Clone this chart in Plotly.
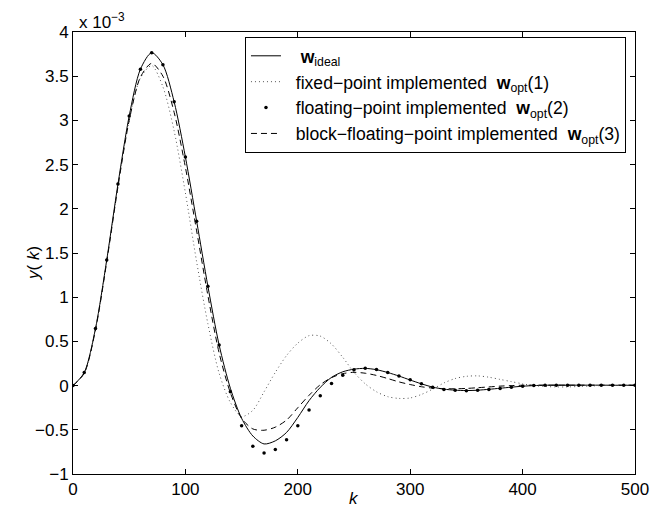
import plotly.graph_objects as go

k = list(range(0, 501, 10))

w_ideal = [0, 0.148, 0.645, 1.42, 2.28, 3.05, 3.58, 3.766, 3.63, 3.21,
           2.586, 1.86, 1.125, 0.46, -0.03, -0.37, -0.57, -0.66, -0.625, -0.53,
           -0.36, -0.17, -0.02, 0.093, 0.156, 0.186, 0.195, 0.18, 0.148, 0.108,
           0.063, 0.02, -0.017, -0.04, -0.052, -0.056, -0.052, -0.042, -0.03, -0.018,
           -0.007, 0.0, 0.004, 0.005, 0.005, 0.005, 0.005, 0.005, 0.004, 0.004, 0.004]

w_fixed = [0, 0.14, 0.64, 1.41, 2.26, 3.0, 3.48, 3.62, 3.38, 2.88,
           2.18, 1.4, 0.7, 0.14, -0.19, -0.35, -0.28, -0.07, 0.15, 0.34,
           0.48, 0.565, 0.56, 0.47, 0.32, 0.15, 0.02, -0.07, -0.125, -0.145,
           -0.14, -0.1, -0.04, 0.03, 0.08, 0.105, 0.11, 0.095, 0.07, 0.045,
           0.02, 0.0, -0.01, -0.015, -0.015, -0.01, -0.005, 0.0, 0.003, 0.004, 0.004]

w_float = [0, 0.148, 0.645, 1.42, 2.28, 3.05, 3.58, 3.766, 3.63, 3.21,
           2.586, 1.86, 1.125, 0.46, -0.07, -0.454, -0.686, -0.762, -0.724, -0.612,
           -0.454, -0.277, -0.115, 0.025, 0.118, 0.178, 0.197, 0.183, 0.149, 0.11,
           0.065, 0.02, -0.018, -0.043, -0.054, -0.058, -0.054, -0.043, -0.032, -0.018,
           -0.007, 0.001, 0.004, 0.005, 0.005, 0.005, 0.005, 0.005, 0.005, 0.005, 0.005]

w_block = [0, 0.14, 0.63, 1.40, 2.25, 3.0, 3.49, 3.645, 3.5, 3.09,
           2.47, 1.75, 1.02, 0.37, -0.08, -0.37, -0.49, -0.505, -0.47, -0.39,
           -0.25, -0.11, 0.01, 0.09, 0.135, 0.15, 0.14, 0.115, 0.08, 0.042,
           0.012, -0.013, -0.028, -0.035, -0.036, -0.032, -0.024, -0.015, -0.006, 0.0,
           0.004, 0.005, 0.005, 0.005, 0.005, 0.005, 0.005, 0.005, 0.005, 0.005, 0.005]

NB = "\u00a0"
names = [NB * 3 + "<b>w</b><sub>ideal</sub>",
         NB * 2 + "fixed\u2212point implemented  <b>w</b><sub>opt</sub>(1)",
         NB * 2 + "floating\u2212point implemented  <b>w</b><sub>opt</sub>(2)",
         NB * 2 + "block\u2212floating\u2212point implemented  <b>w</b><sub>opt</sub>(3)"]

xticks = [0, 100, 200, 300, 400, 500]
yticks = [-1, -0.5, 0, 0.5, 1, 1.5, 2, 2.5, 3, 3.5, 4]
yticktext = ["\u22121", "\u22120.5", "0", "0.5", "1", "1.5", "2", "2.5", "3", "3.5", "4"]

FONT = "Liberation Sans, Arial, Helvetica, sans-serif"

fig = go.Figure()
fig.add_trace(go.Scatter(x=k, y=w_ideal, mode="lines", name=names[0],
                         line=dict(color="black", width=1, shape="spline", smoothing=0.8)))
fig.add_trace(go.Scatter(x=k, y=w_fixed, mode="lines", name=names[1],
                         line=dict(color="#555555", width=1, dash="1px,3px", shape="spline", smoothing=0.8)))
fig.add_trace(go.Scatter(x=k, y=w_float, mode="markers", name=names[2],
                         marker=dict(color="black", size=3.5)))
fig.add_trace(go.Scatter(x=k, y=w_block, mode="lines", name=names[3],
                         line=dict(color="black", width=1, dash="6px,4px", shape="spline", smoothing=0.8)))

fig.update_layout(
    width=653, height=518,
    margin=dict(l=73, r=18, t=32, b=44),
    paper_bgcolor="white", plot_bgcolor="white",
    font=dict(family=FONT, size=17, color="black"),
    showlegend=True,
    legend=dict(x=0.306, y=0.989, xanchor="left", yanchor="top",
                bordercolor="black", borderwidth=1, bgcolor="white",
                font=dict(family=FONT, size=17.6, color="black"),
                tracegroupgap=0, itemwidth=30),
    xaxis=dict(range=[0, 500], tickvals=xticks, ticks="inside", ticklen=5,
               showline=True, linecolor="black", linewidth=1, mirror="ticks",
               showgrid=False, zeroline=False, tickcolor="black", automargin=False,
               tickfont=dict(size=17)),
    yaxis=dict(range=[-1, 4], tickvals=yticks, ticktext=yticktext, ticks="inside", ticklen=5,
               showline=True, linecolor="black", linewidth=1, mirror="ticks",
               showgrid=False, zeroline=False, tickcolor="black", automargin=False,
               tickfont=dict(size=17)),
    annotations=[
        dict(text="x 10<sup>\u22123</sup>", xref="paper", yref="paper",
             x=0.0, y=1.0, xanchor="left", yanchor="bottom", showarrow=False,
             font=dict(family=FONT, size=17, color="black"), xshift=4, yshift=-2),
        dict(text="<i>k</i>", xref="paper", yref="paper", x=0.5, y=0.0,
             xanchor="center", yanchor="middle", showarrow=False,
             font=dict(family=FONT, size=17, color="black"), yshift=-24),
        dict(text="<i>y</i>( <i>k</i>)", xref="paper", yref="paper", x=0.0, y=0.5,
             xanchor="center", yanchor="middle", textangle=-90, showarrow=False,
             font=dict(family=FONT, size=17, color="black"), xshift=-40, yshift=-10),
    ]
)

fig.write_html("out.html", config={"displayModeBar": False},
               post_script="document.body.style.margin='0';document.body.style.padding='0';")
